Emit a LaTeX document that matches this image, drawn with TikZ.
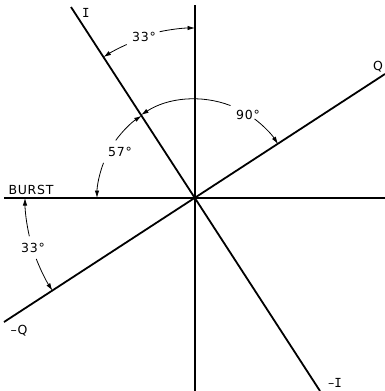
\documentclass[tikz,border=0pt]{standalone}
\usepackage{fontspec}
\setmainfont[LetterSpace=6]{DejaVu Sans}
\newfontfamily\monoI{DejaVu Sans Mono}
\usetikzlibrary{arrows.meta,calc}
\begin{document}
\begin{tikzpicture}[x=1pt,y=1pt,
  axis/.style={line width=1.8pt},
  dimarc/.style={line width=0.8pt,-{Latex[length=7.5pt,width=4.5pt]}},
  lbl/.style={font=\fontsize{12.5}{13}\selectfont,inner sep=0pt}]
\useasboundingbox (0,-391) rectangle (385,0);
\coordinate (O) at (195,-198);
\coordinate (Itop) at (71,-7);
\coordinate (Ibot) at (320,-391);
\coordinate (Qend) at (385,-74);
\coordinate (mQend) at (4,-322);
\coordinate (Vtop) at (195,-5);
\coordinate (Vbot) at (195,-391);
\coordinate (Bl) at (4,-198);
\coordinate (Br) at (385,-198);
% axes
\draw[axis] (Vtop) -- (Vbot);
\draw[axis] (Bl) -- (Br);
\draw[axis] (Itop) -- (Ibot);
\draw[axis] (mQend) -- (Qend);
% labels
\node[lbl] (lI) at (86,-13) {\monoI I};
\node[lbl] (lmI) at (335,-383) {–{\monoI I}};
\node[lbl] (lQ) at (378,-67) {Q};
\node[lbl] (lmQ) at (19,-331) {–Q};
\node[lbl] (lB) at (31,-190) {BURST};
\node[lbl] (l33a) at (144,-37) {33°};
\node[lbl] (l90) at (248,-115) {90°};
\node[lbl] (l57) at (120,-152) {57°};
\node[lbl] (l33b) at (33,-248) {33°};
% upper 33 deg
\draw[dimarc] (O) ++(102:170) arc[start angle=102,end angle=90,radius=170];
\draw[dimarc] (O) ++(114:168) arc[start angle=114,end angle=123,radius=168];
% 90 deg
\draw[dimarc] (O) ++(69:99) arc[start angle=69,end angle=123,radius=99];
\draw[dimarc] (O) ++(53:99) arc[start angle=53,end angle=33,radius=99];
% 57 deg
\draw[dimarc] (O) ++(144:98) arc[start angle=144,end angle=123,radius=98];
\draw[dimarc] (O) ++(159:98) arc[start angle=159,end angle=180,radius=98];
% lower 33 deg
\draw[dimarc] (O) ++(193:170) arc[start angle=193,end angle=180,radius=170];
\draw[dimarc] (O) ++(201:170) arc[start angle=201,end angle=213,radius=170];
\end{tikzpicture}
\end{document}
